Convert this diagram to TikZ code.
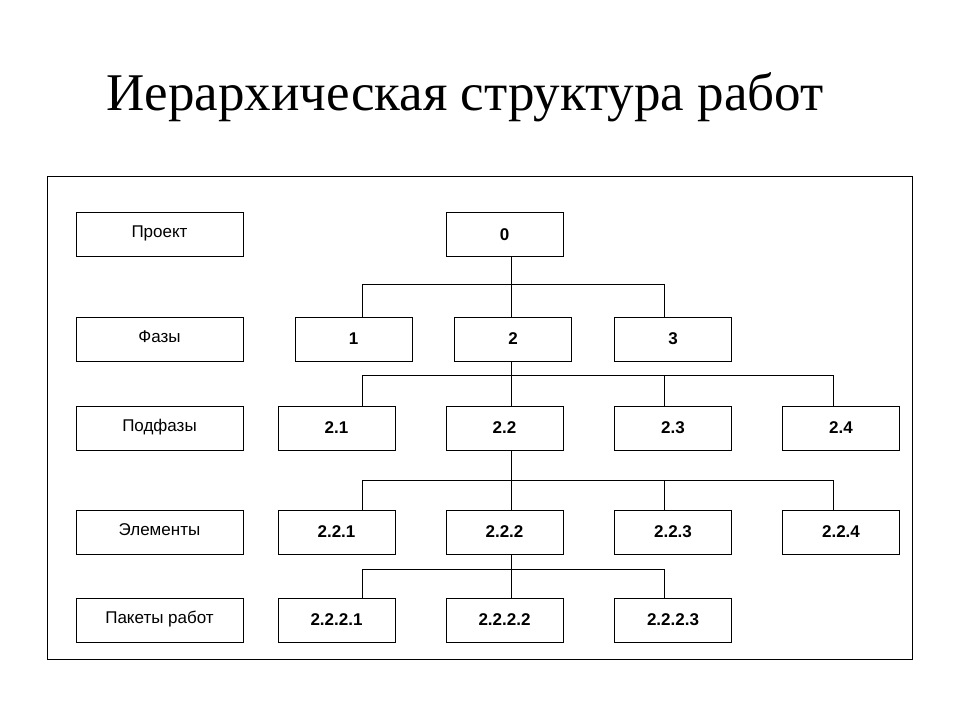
\documentclass[tikz,border=0pt]{standalone}
\usepackage{fontspec}
\setmainfont{Liberation Serif}
\setsansfont{Liberation Sans}
\usetikzlibrary{positioning}

\begin{document}
\begin{tikzpicture}[x=1pt, y=-1pt,
  box/.style={draw, thick, minimum width=117pt, minimum height=44pt, inner sep=0pt,
              font=\sffamily\fontsize{17}{17}\selectfont},
  lbox/.style={box, minimum width=167pt},
  num/.style={box, font=\sffamily\bfseries\fontsize{17}{17}\selectfont}]
\useasboundingbox (0,0) rectangle (960,720);

  % title and frame
  \node (title) at (465,97) {\fontsize{53}{53}\selectfont Иерархическая структура работ};
  \draw[thick] (47,176) rectangle (912,659);

  % level names
  \node[lbox] (lproj) at (159.5,234.5) {Проект\strut};
  \node[lbox] (lphase) at (159.5,339) {Фазы\strut};
  \node[lbox] (lsub) at (159.5,428) {Подфазы\strut};
  \node[lbox] (lelem) at (159.5,532) {Элементы\strut};
  \node[lbox] (lpack) at (159.5,620) {Пакеты работ\strut};

  % tree
  \node[num] (n0) at (504.5,234.5) {0};

  \node[num] (n1) at (353.5,339) {1};
  \node[num] (n2) at (513,339) {2};
  \node[num] (n3) at (673,339) {3};

  \node[num] (n21) at (336.5,428) {2.1};
  \node[num] (n22) at (504.5,428) {2.2};
  \node[num] (n23) at (673,428) {2.3};
  \node[num] (n24) at (841,428) {2.4};

  \node[num] (n221) at (336.5,532) {2.2.1};
  \node[num] (n222) at (504.5,532) {2.2.2};
  \node[num] (n223) at (673,532) {2.2.3};
  \node[num] (n224) at (841,532) {2.2.4};

  \node[num] (n2221) at (336.5,620) {2.2.2.1};
  \node[num] (n2222) at (504.5,620) {2.2.2.2};
  \node[num] (n2223) at (673,620) {2.2.2.3};

  % connectors
  \draw ([xshift=6.5pt]n0.south) -- ([xshift=-2pt]n2.north);
  \draw ([xshift=8.5pt]n1.north) -- ++(0,-32) -| ([xshift=-9pt]n3.north);

  \draw ([xshift=-2pt]n2.south) -- ([xshift=6.5pt]n22.north);
  \draw ([xshift=25.5pt]n21.north) -- ++(0,-30) -| ([xshift=-8pt]n24.north);
  \draw ([xshift=-9pt]n23.north) -- ++(0,-30);

  \draw ([xshift=6.5pt]n22.south) -- ([xshift=6.5pt]n222.north);
  \draw ([xshift=25.5pt]n221.north) -- ++(0,-29) -| ([xshift=-8pt]n224.north);
  \draw ([xshift=-9pt]n223.north) -- ++(0,-29);

  \draw ([xshift=6.5pt]n222.south) -- ([xshift=6.5pt]n2222.north);
  \draw ([xshift=25.5pt]n2221.north) -- ++(0,-28) -| ([xshift=-9pt]n2223.north);
\end{tikzpicture}
\end{document}
